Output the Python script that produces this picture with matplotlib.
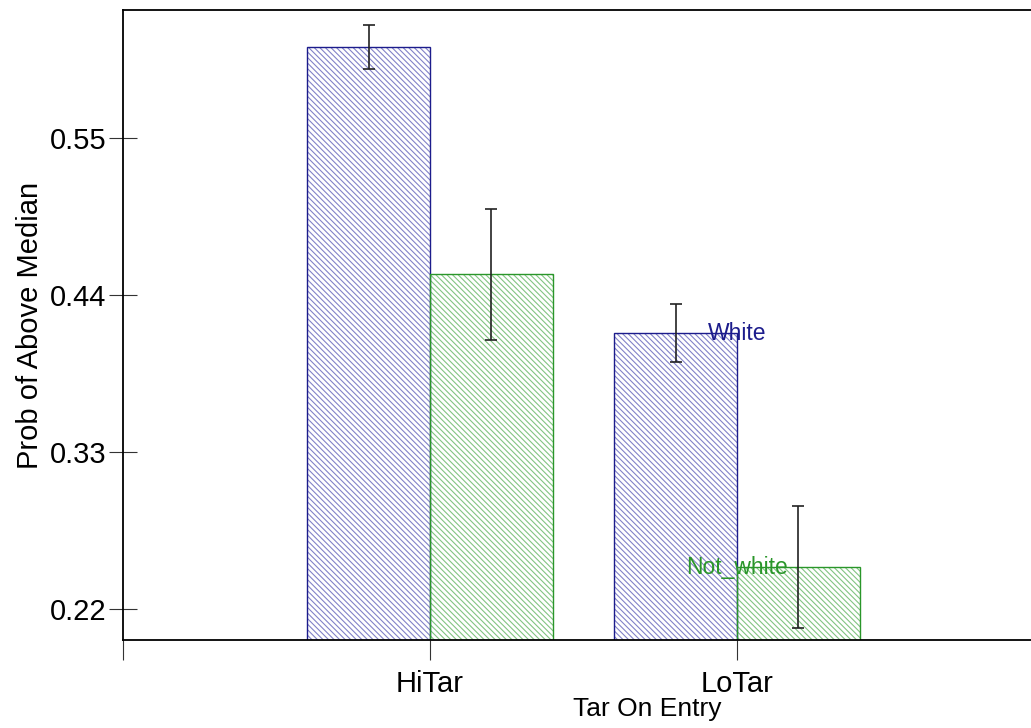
import numpy as np
import matplotlib
matplotlib.use("Agg")
import matplotlib.pyplot as plt

plt.rcParams['font.family'] = ['Liberation Sans', 'DejaVu Sans']
plt.rcParams['hatch.linewidth'] = 0.8

groups = ['HiTar', 'LoTar']
white = [0.6138, 0.4133]
white_err = [0.0154, 0.0203]
not_white = [0.4547, 0.2494]
not_white_err = [0.0459, 0.0427]
yticks = [0.22, 0.33, 0.44, 0.55]

fig = plt.figure(figsize=(10.31, 7.28), dpi=100)
ax = fig.add_axes([0.1193, 0.1209, 0.8933, 0.8654])

x = np.arange(1, len(groups) + 1)
w = 0.4

series = [
    (white, white_err, x - w / 2, '#8282c8', '#1c1c8c', 'White'),
    (not_white, not_white_err, x + w / 2, '#82c482', '#2a962a', 'Not_white'),
]
for vals, errs, pos, hcol, ecol, name in series:
    # hatch layer, then outline on top
    ax.bar(pos, vals, width=w, color='white', edgecolor=hcol, linewidth=0,
           hatch='\\' * 6, zorder=1)
    ax.bar(pos, vals, width=w, fill=False, edgecolor=ecol, linewidth=1.0, zorder=2)
    ax.errorbar(pos, vals, yerr=errs, fmt='none', ecolor='#222222',
                elinewidth=1.2, capsize=4, capthick=1.2, zorder=3)
    ax.text(x[-1], vals[-1], name, color=ecol, fontsize=16.5,
            ha='center', va='center', zorder=4)

ax.set_xlim(0, 3)
ax.set_ylim(0.1983, 0.6397)
ax.set_yticks(yticks)
ax.set_yticklabels([f'{t:.2f}' for t in yticks])
ax.set_xticks([0, 1, 2])
ax.set_xticklabels(['', groups[0], groups[1]])

ax.tick_params(axis='y', direction='inout', length=20, width=0.8,
               labelsize=21, pad=2, colors='#333333', labelcolor='black')
ax.tick_params(axis='x', direction='out', length=14.5, width=0.8,
               labelsize=21, pad=7, colors='#333333', labelcolor='black')

ax.spines['right'].set_visible(False)
for s in ['left', 'bottom', 'top']:
    ax.spines[s].set_linewidth(1.3)
    ax.spines[s].set_color('black')

ax.set_ylabel('Prob of Above Median', fontsize=21, labelpad=4)
ax.set_xlabel('Tar On Entry', fontsize=19, labelpad=0)
ax.xaxis.set_label_coords((647 - 123) / 921, -0.09)

fig.savefig('out.png', dpi=100)
